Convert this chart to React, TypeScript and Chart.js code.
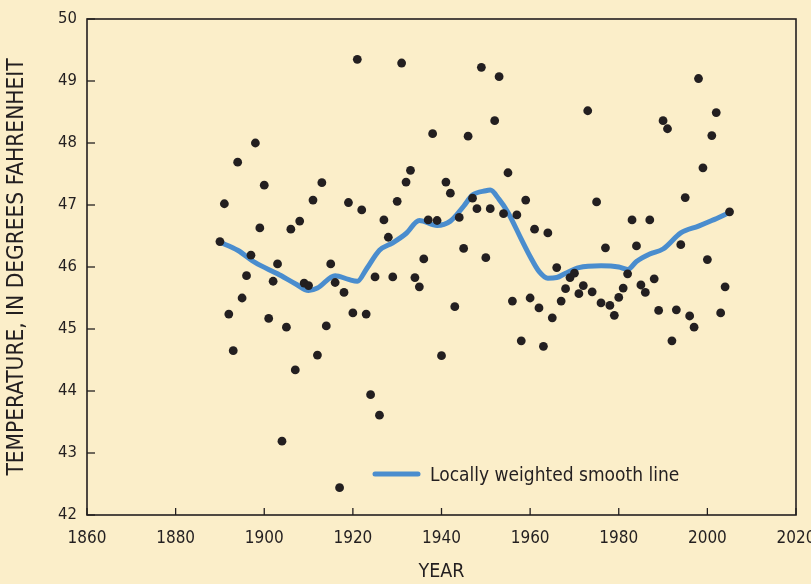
import React, { useEffect, useRef } from "react";
import { Chart, registerables } from "chart.js";

Chart.register(...registerables);

const years = [
  1890, 1891, 1892, 1893, 1894, 1895, 1896, 1897, 1898, 1899,
  1900, 1901, 1902, 1903, 1904, 1905, 1906, 1907, 1908, 1909,
  1910, 1911, 1912, 1913, 1914, 1915, 1916, 1917, 1918, 1919,
  1920, 1921, 1922, 1923, 1924, 1925, 1926, 1927, 1928, 1929,
  1930, 1931, 1932, 1933, 1934, 1935, 1936, 1937, 1938, 1939,
  1940, 1941, 1942, 1943, 1944, 1945, 1946, 1947, 1948, 1949,
  1950, 1951, 1952, 1953, 1954, 1955, 1956, 1957, 1958, 1959,
  1960, 1961, 1962, 1963, 1964, 1965, 1966, 1967, 1968, 1969,
  1970, 1971, 1972, 1973, 1974, 1975, 1976, 1977, 1978, 1979,
  1980, 1981, 1982, 1983, 1984, 1985, 1986, 1987, 1988, 1989,
  1990, 1991, 1992, 1993, 1994, 1995, 1996, 1997, 1998, 1999,
  2000, 2001, 2002, 2003, 2004, 2005,
];

const temps = [
  46.41, 47.02, 45.24, 44.65, 47.69, 45.5, 45.86, 46.19, 48.0, 46.63,
  47.32, 45.17, 45.77, 46.05, 43.19, 45.03, 46.61, 44.34, 46.74, 45.74,
  45.7, 47.08, 44.58, 47.36, 45.05, 46.05, 45.75, 42.44, 45.59, 47.04,
  45.26, 49.35, 46.92, 45.24, 43.94, 45.84, 43.61, 46.76, 46.48, 45.84,
  47.06, 49.29, 47.37, 47.56, 45.83, 45.68, 46.13, 46.76, 48.15, 46.75,
  44.57, 47.37, 47.19, 45.36, 46.8, 46.3, 48.11, 47.11, 46.94, 49.22,
  46.15, 46.94, 48.36, 49.07, 46.86, 47.52, 45.45, 46.84, 44.81, 47.08,
  45.5, 46.61, 45.34, 44.72, 46.55, 45.18, 45.99, 45.45, 45.65, 45.83,
  45.9, 45.57, 45.7, 48.52, 45.6, 47.05, 45.42, 46.31, 45.38, 45.22,
  45.51, 45.66, 45.89, 46.76, 46.34, 45.71, 45.59, 46.76, 45.81, 45.3,
  48.36, 48.23, 44.81, 45.31, 46.36, 47.12, 45.21, 45.03, 49.04, 47.6,
  46.12, 48.12, 48.49, 45.26, 45.68, 46.89,
];

const smoothYears = [
  1890, 1894, 1898, 1903, 1907, 1910, 1912, 1916, 1919, 1921,
  1923, 1926, 1929, 1932, 1935, 1939, 1942, 1945, 1947, 1950,
  1951, 1953, 1955, 1958, 1960, 1962, 1964, 1966, 1968, 1971,
  1976, 1980, 1982, 1984, 1987, 1990, 1994, 1998, 2001, 2005,
];

const smoothTemps = [
  46.4, 46.27, 46.07, 45.89, 45.73, 45.62, 45.66, 45.86, 45.8, 45.77,
  45.96, 46.27, 46.39, 46.54, 46.75, 46.67, 46.74, 46.98, 47.16, 47.23,
  47.24, 47.09, 46.88, 46.45, 46.17, 45.93, 45.82, 45.83, 45.9, 45.99,
  46.02, 46.0, 45.96, 46.09, 46.21, 46.29, 46.55, 46.66, 46.75, 46.88,
];

const xAxisMin = 1860;
const xAxisMax = 2020;
const xAxisStep = 20;
const yAxisMin = 42;
const yAxisMax = 50;
const yAxisStep = 1;

const xTitle = "YEAR";
const yTitle = "TEMPERATURE, IN DEGREES FAHRENHEIT";
const smoothLabel = "Locally weighted smooth line";

const FONT =
  "'Liberation Sans Narrow', 'Arial Narrow', 'DejaVu Sans Condensed', 'Liberation Sans', sans-serif";
const BG = "#fbeec9";
const INK = "#231f20";
const BLUE = "#4a8dce";

export default function App() {
  const ref = useRef<HTMLCanvasElement>(null);

  useEffect(() => {
    if (!ref.current) return;

    const framePlugin = {
      id: "frameTicks",
      beforeDatasetsDraw(chart: any) {
        const { ctx, chartArea: a, scales } = chart;
        ctx.save();
        ctx.strokeStyle = INK;
        ctx.lineWidth = 1.6;
        ctx.strokeRect(a.left, a.top, a.right - a.left, a.bottom - a.top);
        ctx.lineWidth = 1.3;
        scales.x.ticks.forEach((t: any) => {
          const px = scales.x.getPixelForValue(t.value);
          ctx.beginPath();
          ctx.moveTo(px, a.bottom);
          ctx.lineTo(px, a.bottom - 7);
          ctx.stroke();
        });
        scales.y.ticks.forEach((t: any) => {
          const py = scales.y.getPixelForValue(t.value);
          ctx.beginPath();
          ctx.moveTo(a.left, py);
          ctx.lineTo(a.left + 8, py);
          ctx.stroke();
        });
        ctx.restore();
      },
    };

    const legendPlugin = {
      id: "insideLegend",
      afterDraw(chart: any) {
        const { ctx } = chart;
        ctx.save();
        ctx.strokeStyle = BLUE;
        ctx.lineWidth = 5;
        ctx.lineCap = "round";
        ctx.beginPath();
        ctx.moveTo(375, 474);
        ctx.lineTo(418, 474);
        ctx.stroke();
        ctx.fillStyle = INK;
        ctx.font = `19px ${FONT}`;
        ctx.textBaseline = "alphabetic";
        ctx.textAlign = "left";
        ctx.fillText(smoothLabel, 430, 481);
        ctx.restore();
      },
    };

    const chart = new Chart(ref.current, {
      type: "scatter",
      data: {
        datasets: [
          {
            label: "Annual mean temperature",
            data: years.map((y, i) => ({ x: y, y: temps[i] })),
            backgroundColor: INK,
            borderColor: INK,
            pointRadius: 4.4,
            pointBorderWidth: 0,
            order: 0,
          } as any,
          {
            label: smoothLabel,
            type: "line",
            data: smoothYears.map((y, i) => ({ x: y, y: smoothTemps[i] })),
            showLine: true,
            borderColor: BLUE,
            borderWidth: 5,
            pointRadius: 0,
            fill: false,
            cubicInterpolationMode: "monotone",
            borderCapStyle: "round",
            borderJoinStyle: "round",
            order: 1,
          } as any,
        ],
      },
      options: {
        responsive: true,
        maintainAspectRatio: false,
        animation: false,
        layout: { padding: { top: 19, right: 15, left: 0, bottom: 0 } },
        plugins: {
          legend: { display: false },
          tooltip: { enabled: false },
        },
        scales: {
          x: {
            type: "linear",
            min: xAxisMin,
            max: xAxisMax,
            ticks: {
              stepSize: xAxisStep,
              callback: (v: any) => String(v),
              color: INK,
              font: { family: FONT, size: 17 },
              padding: 13,
              maxRotation: 0,
            },
            grid: { display: false, drawTicks: false },
            border: { display: false },
            title: {
              display: true,
              text: xTitle,
              color: INK,
              font: { family: FONT, size: 19.5 },
              padding: { top: 0, bottom: 0 },
            },
            afterFit: (s: any) => {
              s.height = 69;
              s.paddingRight = 0;
              s.paddingLeft = 0;
            },
          } as any,
          y: {
            min: yAxisMin,
            max: yAxisMax,
            ticks: {
              stepSize: yAxisStep,
              color: INK,
              font: { family: FONT, size: 16.5 },
              padding: 10,
            },
            grid: { display: false, drawTicks: false },
            border: { display: false },
            title: {
              display: true,
              text: yTitle,
              color: INK,
              font: { family: FONT, size: 22.5 },
              padding: { top: 4, bottom: 0 },
            },
            afterFit: (s: any) => {
              s.width = 87;
              s.paddingTop = 0;
              s.paddingBottom = 0;
            },
          } as any,
        },
      },
      plugins: [framePlugin, legendPlugin],
    });

    return () => chart.destroy();
  }, []);

  return (
    <div
      style={{
        position: "fixed",
        left: 0,
        top: 0,
        width: 811,
        height: 584,
        background: BG,
      }}
    >
      <canvas ref={ref} />
    </div>
  );
}
